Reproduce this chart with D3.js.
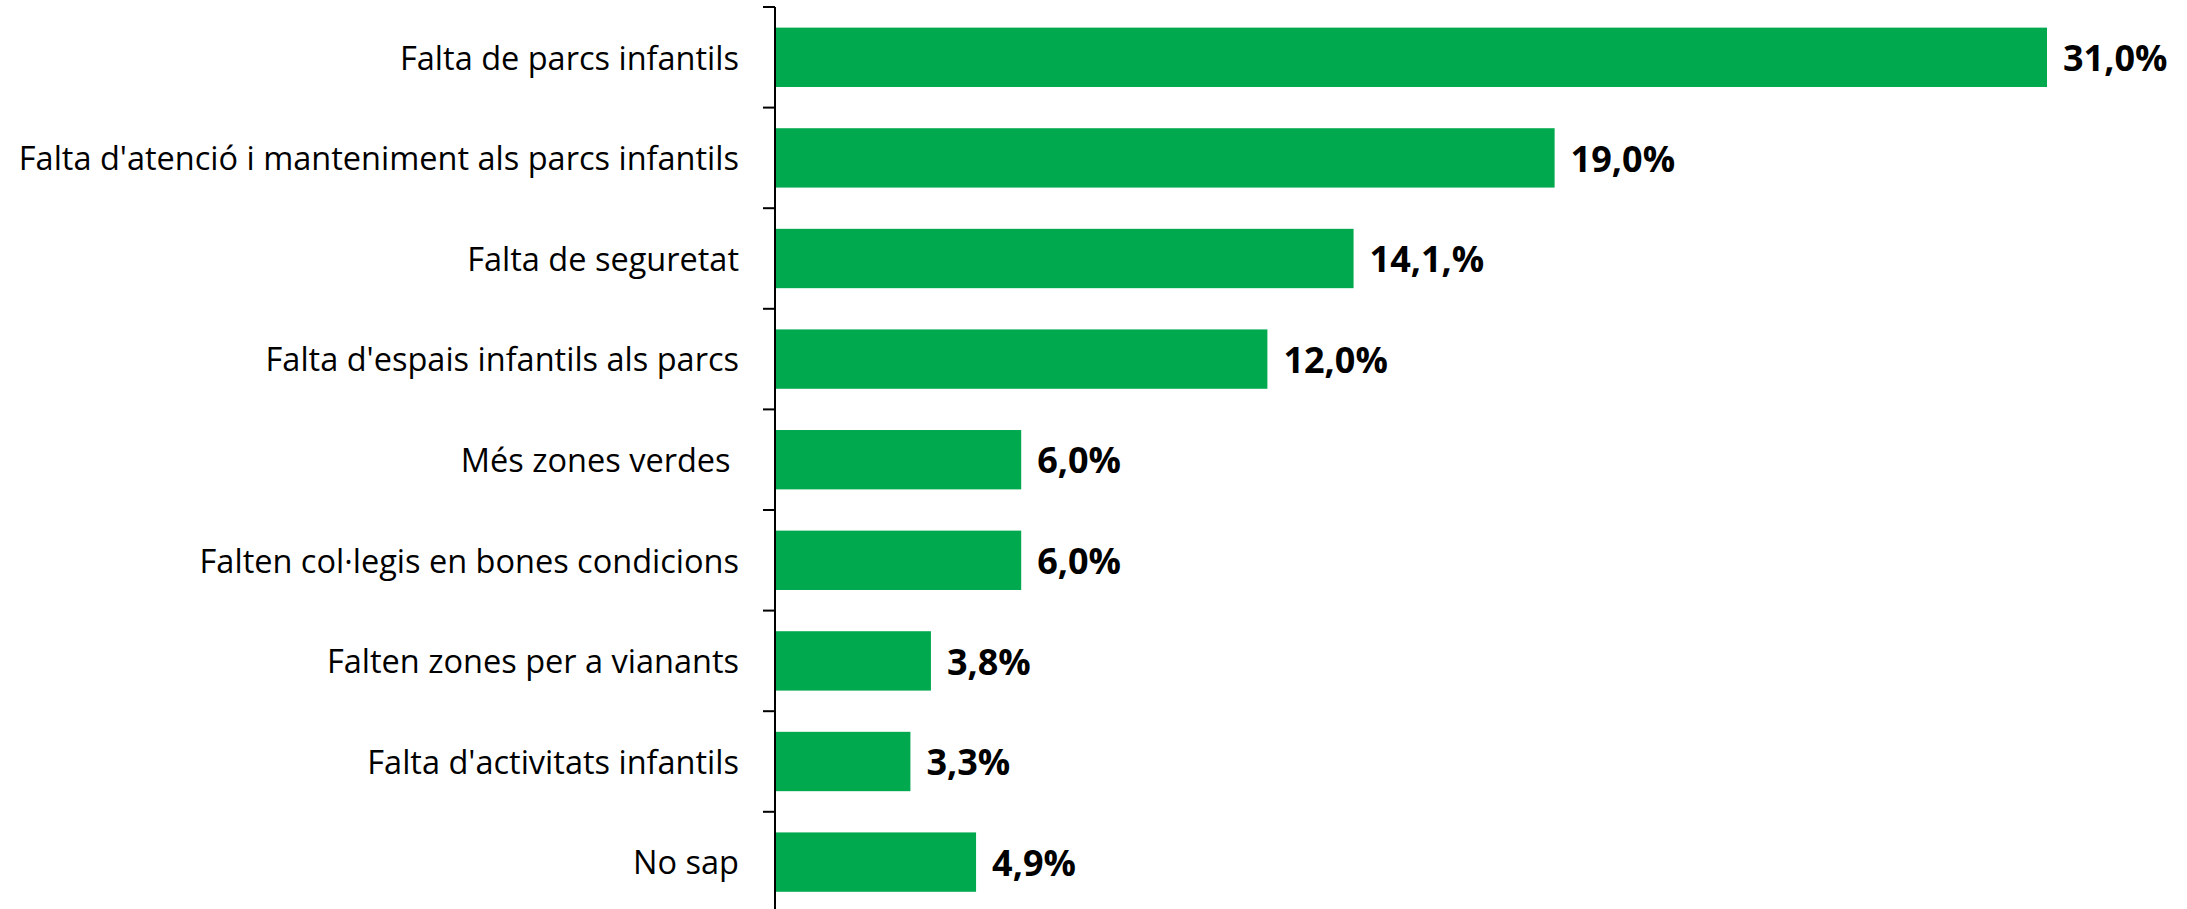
<!DOCTYPE html>
<html>
<head>
<meta charset="utf-8">
<script src="https://d3js.org/d3.v7.min.js"></script>
<style>
  body { margin: 0; background: #fff; }
</style>
</head>
<body>
<div id="chart"></div>
<script>
// categories and values (percent)
var categories = [
  "Falta de parcs infantils",
  "Falta d'atenció i manteniment als parcs infantils",
  "Falta de seguretat",
  "Falta d'espais infantils als parcs",
  "Més zones verdes ",
  "Falten col·legis en bones condicions",
  "Falten zones per a vianants",
  "Falta d'activitats infantils",
  "No sap"
];
var values = [31.0, 19.0, 14.1, 12.0, 6.0, 6.0, 3.8, 3.3, 4.9];
var valueLabels = ["31,0%", "19,0%", "14,1,%", "12,0%", "6,0%", "6,0%", "3,8%", "3,3%", "4,9%"];

var W = 2187, H = 909;
var margin = {top: 7, left: 775};

var svg = d3.select("#chart").append("svg")
  .attr("width", W)
  .attr("height", H);

var x = d3.scaleLinear()
  .domain([0, 31.0])
  .range([margin.left, 2047]);

var y = d3.scaleBand()
  .domain(categories)
  .range([margin.top, margin.top + 100.6 * categories.length])
  .paddingInner(0.41)
  .paddingOuter(0.205);

// bars
svg.selectAll("rect.bar")
  .data(categories)
  .enter()
  .append("rect")
  .attr("class", "bar")
  .attr("x", x(0))
  .attr("y", function(d) { return y(d); })
  .attr("width", function(d, i) { return x(values[i]) - x(0); })
  .attr("height", y.bandwidth())
  .style("fill", "#00a84e");

// value labels
svg.selectAll("text.val")
  .data(categories)
  .enter()
  .append("text")
  .attr("class", "val")
  .attr("x", function(d, i) { return x(values[i]) + 16; })
  .attr("y", function(d) { return y(d) + y.bandwidth() / 2 + 1; })
  .attr("dy", "0.35em")
  .style("font-family", "'Open Sans', sans-serif")
  .style("font-weight", "bold")
  .style("font-size", "36px")
  .style("fill", "#000")
  .text(function(d, i) { return valueLabels[i]; });

// axis: ticks between the categories
var axis = svg.append("g");
axis.append("line")
  .attr("x1", margin.left).attr("x2", margin.left)
  .attr("y1", margin.top).attr("y2", H)
  .style("stroke", "#000")
  .style("stroke-width", 2);

var step = y.step();
d3.range(categories.length + 1).forEach(function(i) {
  axis.append("line")
    .attr("x1", margin.left - 12).attr("x2", margin.left)
    .attr("y1", margin.top + i * step).attr("y2", margin.top + i * step)
    .style("stroke", "#000")
    .style("stroke-width", 2);
});

// category labels
svg.selectAll("text.cat")
  .data(categories)
  .enter()
  .append("text")
  .attr("class", "cat")
  .attr("x", margin.left - 36)
  .attr("y", function(d) { return y(d) + y.bandwidth() / 2 + 1; })
  .attr("dy", "0.35em")
  .attr("text-anchor", "end")
  .style("font-family", "'Open Sans', sans-serif")
  .style("font-size", "32.5px")
  .style("fill", "#000")
  .style("white-space", "pre")
  .text(function(d) { return d; });
</script>
</body>
</html>
